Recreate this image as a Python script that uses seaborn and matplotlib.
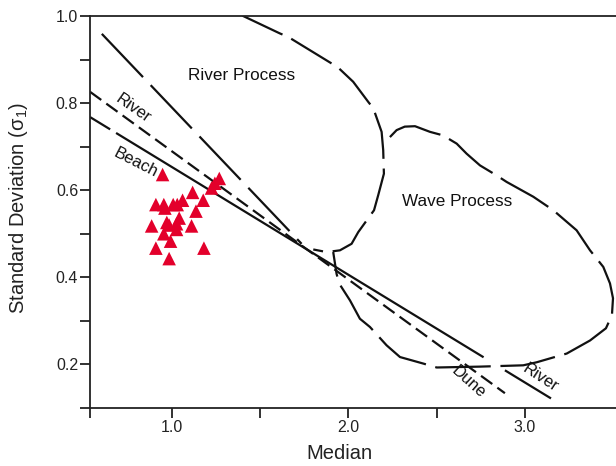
import numpy as np
import seaborn as sns
import matplotlib
matplotlib.use("Agg")
import matplotlib.pyplot as plt

sns.set_style("ticks")
plt.rcParams['font.family'] = ['Liberation Sans', 'DejaVu Sans']
plt.rcParams['mathtext.fontset'] = 'custom'
plt.rcParams['mathtext.rm'] = 'Liberation Sans'
plt.rcParams['mathtext.default'] = 'regular'
plt.rcParams['lines.scale_dashes'] = False

# === sample points (median vs sorting) ===
sample_median = [0.949, 1.270, 1.226, 1.245, 1.119, 1.179, 0.911, 0.956, 0.962,
                 1.009, 1.032, 1.062, 1.138, 0.887, 0.986, 1.043, 1.028, 1.028,
                 1.113, 0.956, 0.994, 0.911, 1.183, 0.986, 0.973]
sample_sd = [0.636, 0.627, 0.605, 0.616, 0.595, 0.577, 0.567, 0.567, 0.559,
             0.567, 0.567, 0.577, 0.552, 0.518, 0.520, 0.536, 0.523, 0.510,
             0.518, 0.500, 0.483, 0.467, 0.467, 0.443, 0.526]

# === discriminant lines (end points) ===
line_a_x = [0.605, 1.736]          # steep long-dash line
line_a_y = [0.959, 0.477]
line_b_x = [0.538, 2.887]          # River (upper) / Dune (lower), short dash
line_b_y = [0.826, 0.134]
line_c_x = [0.538, 3.148]          # Beach (upper) / River (lower)
line_c_y = [0.768, 0.122]

# === River Process boundary ===
river_curve_x = [1.390, 1.405, 1.613, 1.660, 1.906, 1.934, 2.028, 2.113, 2.142,
                 2.189, 2.198, 2.202, 2.170, 2.146, 2.057, 2.019, 1.953, 1.878, 1.802]
river_curve_y = [1.006, 1.000, 0.960, 0.952, 0.891, 0.885, 0.849, 0.803, 0.788,
                 0.734, 0.692, 0.638, 0.589, 0.554, 0.504, 0.477, 0.462, 0.458, 0.464]

# === Wave Process boundary ===
wave_curve_x = [2.236, 2.274, 2.320, 2.378, 2.463, 2.536, 2.614, 2.670, 2.746,
                2.840, 2.897, 3.048, 3.161, 3.293, 3.369, 3.444, 3.482, 3.499,
                3.493, 3.459, 3.369, 3.237, 3.067, 2.991, 2.746, 2.501, 2.425,
                2.293, 2.217, 2.123, 2.066, 2.010, 1.950, 1.934, 1.915]
wave_curve_y = [0.722, 0.738, 0.746, 0.747, 0.734, 0.726, 0.707, 0.684, 0.657,
                0.634, 0.619, 0.585, 0.554, 0.508, 0.462, 0.424, 0.386, 0.352,
                0.313, 0.283, 0.255, 0.225, 0.205, 0.198, 0.195, 0.193, 0.202,
                0.217, 0.244, 0.286, 0.305, 0.347, 0.385, 0.408, 0.458]

# === labels ===
region_labels = ["River Process", "Wave Process"]
region_x = [1.398, 2.618]
region_y = [0.863, 0.574]
line_labels = ["River", "Beach", "Dune", "River"]
line_label_x = [0.783, 0.795, 2.682, 3.090]
line_label_y = [0.787, 0.663, 0.159, 0.169]
line_label_rot = [-35, -27, -42, -33]

red = "#e3002b"
ink = "#111111"

fig = plt.figure(figsize=(6.16, 4.66), dpi=100)
ax = fig.add_axes([90 / 616, 58 / 466, 526 / 616, 392 / 466])

lw = 1.6
sns.lineplot(x=line_a_x, y=line_a_y, sort=False, estimator=None, color=ink,
             lw=lw, linestyle=(0, (43, 8)), ax=ax)
sns.lineplot(x=line_b_x, y=line_b_y, sort=False, estimator=None, color=ink,
             lw=lw, linestyle=(0, (10, 4.5)), ax=ax)
sns.lineplot(x=line_c_x, y=line_c_y, sort=False, estimator=None, color=ink,
             lw=lw, linestyle=(0, (17, 5, 310, 18, 40, 200)), ax=ax)
sns.lineplot(x=river_curve_x, y=river_curve_y, sort=False, estimator=None,
             color=ink, lw=lw, linestyle=(0, (34, 7)), ax=ax)
sns.lineplot(x=wave_curve_x, y=wave_curve_y, sort=False, estimator=None,
             color=ink, lw=lw, linestyle=(0, (40, 7)), ax=ax)

sns.scatterplot(x=sample_median, y=sample_sd, marker="^", s=95, color=red,
                edgecolor="none", linewidth=0, ax=ax, zorder=5)

for lab, x, y in zip(region_labels, region_x, region_y):
    ax.text(x, y, lab, fontsize=12.3, ha="center", va="center", color=ink)
for lab, x, y, r in zip(line_labels, line_label_x, line_label_y, line_label_rot):
    ax.text(x, y, lab, fontsize=12, ha="center", va="center", rotation=r,
            rotation_mode="anchor", color=ink)

x_min, x_max = 0.538, 3.516
ax.set_xlim(x_min, x_max)
ax.set_ylim(0.1, 1.0)

ax.set_xticks([1.0, 2.0, 3.0])
ax.set_xticklabels(["1.0", "2.0", "3.0"])
ax.set_xticks([x_min, 1.5, 2.5], minor=True)
ax.set_yticks([0.2, 0.4, 0.6, 0.8, 1.0])
ax.set_yticklabels(["0.2", "0.4", "0.6", "0.8", "1.0"])
ax.set_yticks([0.1, 0.3, 0.5, 0.7, 0.9], minor=True)
ax.tick_params(which="both", direction="out", length=7, width=1.3,
               color="#222222", labelsize=11.5, labelcolor="#222222", pad=1.5)

for side in ["left", "bottom", "top"]:
    ax.spines[side].set_linewidth(1.3)
    ax.spines[side].set_color("#222222")
ax.spines["right"].set_visible(False)

ax.set_xlabel("Median", fontsize=14.5, color="#222222")
ax.set_ylabel("Standard Deviation (σ$_1$)", fontsize=14.5, color="#222222")
ax.xaxis.set_label_coords(0.475, -0.092)
ax.yaxis.set_label_coords(-0.115, 0.51)

fig.savefig("out.png", dpi=100)
